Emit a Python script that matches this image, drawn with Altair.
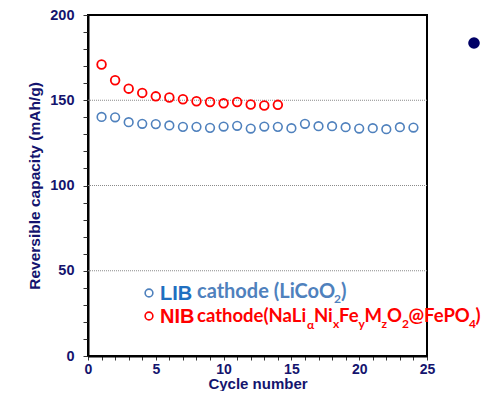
import altair as alt
import pandas as pd

# ---- data ----
lib_cycles = list(range(1, 25))
lib_capacity = [140.2, 140.0, 137.1, 136.2, 136.0, 135.2, 134.4, 134.4, 133.8, 134.6,
                135.0, 133.4, 134.6, 134.4, 133.6, 136.2, 134.8, 134.8, 134.2, 133.4,
                133.6, 133.0, 134.2, 134.0]
nib_cycles = list(range(1, 15))
nib_capacity = [171.0, 161.7, 156.8, 154.3, 152.3, 151.6, 150.6, 149.4, 149.0, 148.2,
                149.0, 147.5, 146.9, 147.3]
grid_values = [50, 100, 150]
x_ticks = list(range(0, 26))
y_ticks = list(range(0, 201, 10))

NAVY = "#14146e"
RED = "#ff0000"
BLUE = "#4f81bd"
BLUE2 = "#1f6fc0"

W, H = 339, 341

df_lib = pd.DataFrame({"cycle": lib_cycles, "cap": lib_capacity})
df_nib = pd.DataFrame({"cycle": nib_cycles, "cap": nib_capacity})
df_grid = pd.DataFrame({"v": grid_values})

xscale = alt.Scale(domain=[0, 25], nice=False, zero=False)
yscale = alt.Scale(domain=[0, 200], nice=False)

xaxis = alt.Axis(values=x_ticks, labelExpr="datum.value % 5 == 0 ? datum.label : ''",
                 title="Cycle number", grid=False, tickSize=4, tickColor="#333",
                 domainColor="black", domainWidth=2, labelFont="Liberation Sans",
                 labelFontWeight="bold", labelFontSize=14, labelColor=NAVY,
                 labelPadding=2, labelOverlap=False, labelFlush=False,
                 titleFont="Liberation Sans", titleFontWeight="bold",
                 titleFontSize=15, titleColor=NAVY, titleY=27, titleBaseline="middle")
yaxis = alt.Axis(values=y_ticks, labelExpr="datum.value % 50 == 0 ? datum.label : ''",
                 title="Reversible capacity (mAh/g)", grid=False, tickSize=5, tickColor="#333",
                 domainColor="black", domainWidth=2, labelFont="Liberation Sans",
                 labelFontWeight="bold", labelFontSize=14.5, labelColor=NAVY,
                 labelPadding=9, labelOverlap=False, labelFlush=False,
                 titleFont="Liberation Sans", titleFontWeight="bold",
                 titleFontSize=15.5, titleColor=NAVY, titleX=-54, titleY=H / 2,
                 titleAngle=-90, titleBaseline="middle", titleAlign="center")

grid = alt.Chart(df_grid).mark_rule(color="#8a8a8a", strokeDash=[1, 1], strokeWidth=1).encode(
    y=alt.Y("v:Q", scale=yscale, axis=yaxis)
)

base_lib = alt.Chart(df_lib).mark_point(shape="circle", filled=False, size=75,
                                        strokeWidth=1.6, color=BLUE, opacity=1).encode(
    x=alt.X("cycle:Q", scale=xscale, axis=xaxis),
    y=alt.Y("cap:Q", scale=yscale, axis=yaxis),
)
base_nib = alt.Chart(df_nib).mark_point(shape="circle", filled=False, size=75,
                                        strokeWidth=1.8, color=RED, opacity=1).encode(
    x=alt.X("cycle:Q", scale=xscale, axis=xaxis),
    y=alt.Y("cap:Q", scale=yscale, axis=yaxis),
)

one = pd.DataFrame({"a": [0]})


def txt(s, x, y, size, color, font="Lato"):
    return alt.Chart(one).mark_text(text=s, align="left", baseline="alphabetic",
                                    font=font, fontWeight="bold", fontSize=size,
                                    color=color).encode(x=alt.value(x), y=alt.value(y))


def circ(x, y, color):
    return alt.Chart(one).mark_point(shape="circle", filled=False, size=60, strokeWidth=1.6,
                                     color=color, opacity=1).encode(x=alt.value(x), y=alt.value(y))


FB = 20
FR = 18.5
S = 12
legend = [
    circ(61, 278, BLUE),
    txt("LIB", 72, 285, 20, BLUE2, "Liberation Sans"),
    txt("cathode (LiCoO", 109, 283, FB, BLUE),
    txt("2", 246, 287.5, S, BLUE),
    txt(")", 253, 283, FB, BLUE),
    circ(61, 301, RED),
    txt("NIB", 72, 308, 20, RED, "Liberation Sans"),
    txt("cathode(NaLi", 109, 307, FR, RED),
    txt("α", 219, 314, S, RED),
    txt("Ni", 226, 307, FR, RED),
    txt("x", 245, 313, S, RED),
    txt("Fe", 251, 307, FR, RED),
    txt("y", 270.5, 313, S, RED),
    txt("M", 276.5, 307, FR, RED),
    txt("z", 293.5, 313, S, RED),
    txt("O", 299, 307, FR, RED),
    txt("2", 314, 313, S, RED),
    txt("@FePO", 320.5, 307, FR, RED),
    txt("4", 381, 313, S, RED),
    txt(")", 387.5, 307, FR, RED),
]

dot = alt.Chart(one).mark_point(shape="circle", filled=True, size=135, color="#000066",
                                opacity=1).encode(x=alt.value(386), y=alt.value(28))

chart = alt.layer(grid, base_lib, base_nib, *legend, dot).properties(
    width=W, height=H,
    background="white",
    autosize=alt.AutoSizeParams(type="none"),
    padding={"left": 80, "top": 7, "right": 54, "bottom": 35},
).configure_view(stroke="black", strokeWidth=2).configure_axis(labelOverlap=False)

chart.save("out.html", embed_options={"renderer": "svg", "actions": False})
